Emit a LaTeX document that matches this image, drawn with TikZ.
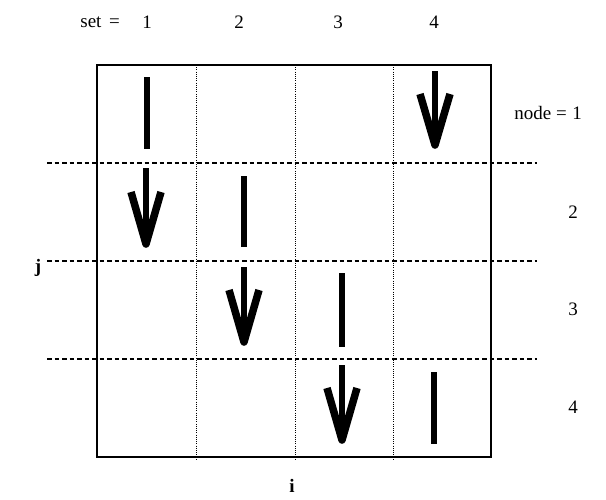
\documentclass[tikz,border=0pt]{standalone}
\usepackage{fontspec}
\setmainfont{Liberation Serif}
\newcommand\myarrow[4]{% cx, top, tip, wing
  \draw[arrline] (#1,#2) -- (#1,#3-6);
  \draw[wingline] (#1-15,#4+2) -- (#1,#3-5) -- (#1+15,#4+2);}
\newcommand\mybar[3]{\draw[barline] (#1,#2) -- (#1,#3);}
\begin{document}
\begin{tikzpicture}[x=1pt,y=-1pt,
  lbl/.style={font=\fontsize{19}{21}\selectfont, inner sep=0pt},
  blbl/.style={font=\bfseries\fontsize{19}{21}\selectfont, inner sep=0pt},
  frame/.style={line width=2pt},
  rowline/.style={line width=1.2pt, dash pattern=on 4.5pt off 3pt},
  colline/.style={line width=1pt, dash pattern=on 1pt off 1.2pt},
  arrline/.style={line width=6.5pt},
  wingline/.style={line width=7.5pt, line join=round},
  barline/.style={line width=6.5pt}]
\useasboundingbox (0,0) rectangle (606,499);
% grid
\foreach \y in {163,261,359} \draw[rowline] (47,\y) -- (537,\y);
\foreach \x in {196,295,393} \draw[colline] (\x,65) -- (\x,459);
\draw[frame] (97,65) rectangle (491,457);
% labels
\node[lbl,anchor=east] (set) at (120,22) {set\hspace{0.15em} =};
\node[lbl] (s1) at (147,22) {1};
\node[lbl] (s2) at (239,22) {2};
\node[lbl] (s3) at (338,22) {3};
\node[lbl] (s4) at (434,22) {4};
\node[lbl,anchor=east] (node) at (567,113) {node =};
\node[lbl] (n1) at (577,113) {1};
\node[lbl] (n2) at (573,212) {2};
\node[lbl] (n3) at (573,309) {3};
\node[lbl] (n4) at (573,407) {4};
\node[blbl] (j) at (38,268) {j};
\node[blbl] (i) at (292,486) {i};
% arrows
\myarrow{435}{71}{150}{92}
\myarrow{146}{168}{249}{190}
\myarrow{244}{267}{347}{288}
\myarrow{342}{365}{445}{386}
% bars
\mybar{147}{77}{149}
\mybar{244}{176}{247}
\mybar{342}{273}{347}
\mybar{434}{372}{444}
\end{tikzpicture}
\end{document}
